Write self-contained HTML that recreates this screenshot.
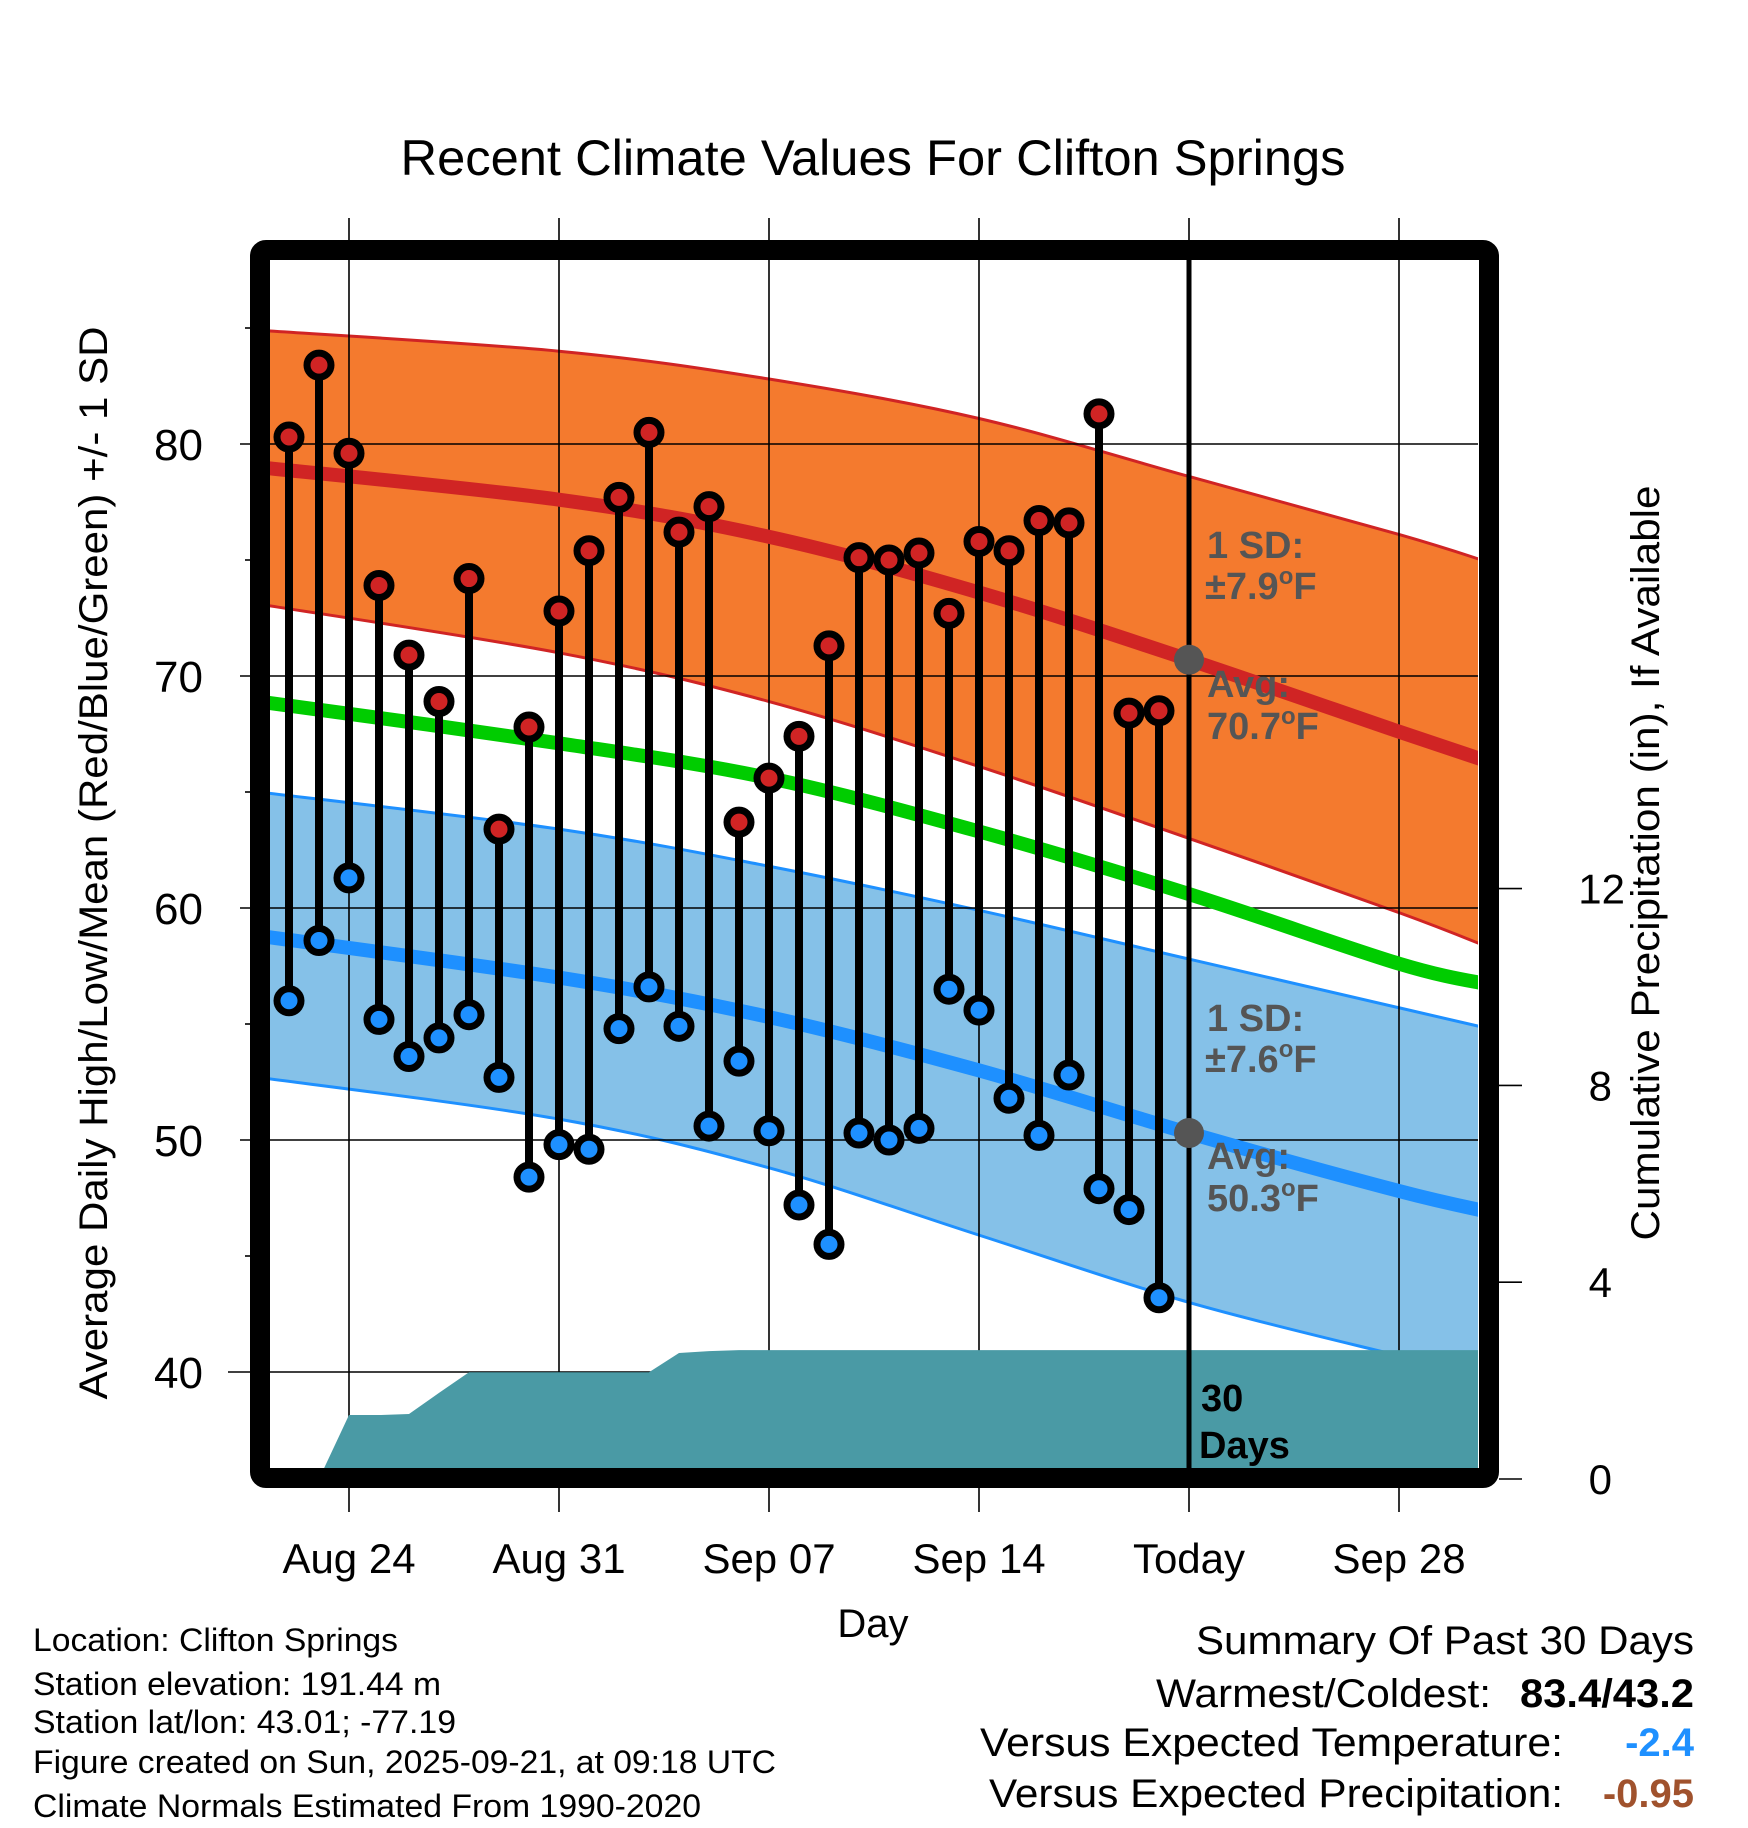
<!DOCTYPE html>
<html><head><meta charset="utf-8"><style>
html,body{margin:0;padding:0;background:#fff;}
svg{display:block;font-family:"Liberation Sans",Arial,sans-serif;}
</style></head><body>
<svg id="chart" width="1748" height="1828" viewBox="0 0 1748 1828" xmlns="http://www.w3.org/2000/svg">
<defs><clipPath id="plotclip"><rect x="270" y="260" width="1208" height="1210"/></clipPath></defs>
<g id="bands" clip-path="url(#plotclip)"></g>
<g id="grid"></g>
<g id="precip" clip-path="url(#plotclip)"></g>
<g id="lines" clip-path="url(#plotclip)"></g>
<g id="obs"></g>
<g id="anno"></g>
<rect x="260" y="250" width="1229" height="1228" rx="6" fill="none" stroke="#000" stroke-width="20"/>
<g id="axes"></g>
<text x="873" y="175" font-size="50" text-anchor="middle" textLength="945" lengthAdjust="spacingAndGlyphs">Recent Climate Values For Clifton Springs</text>
<text x="873" y="1637" font-size="40" text-anchor="middle">Day</text>
<text transform="translate(107,863) rotate(-90)" font-size="40" text-anchor="middle" textLength="1073" lengthAdjust="spacingAndGlyphs">Average Daily High/Low/Mean (Red/Blue/Green) +/- 1 SD</text>
<text transform="translate(1659,863) rotate(-90)" font-size="40" text-anchor="middle" textLength="755" lengthAdjust="spacingAndGlyphs">Cumulative Precipitation (in), If Available</text>
<g font-size="32">
<text x="33" y="1651" textLength="365" lengthAdjust="spacingAndGlyphs">Location: Clifton Springs</text>
<text x="33" y="1695" textLength="408" lengthAdjust="spacingAndGlyphs">Station elevation: 191.44 m</text>
<text x="33" y="1733" textLength="423" lengthAdjust="spacingAndGlyphs">Station lat/lon: 43.01; -77.19</text>
<text x="33" y="1773" textLength="743" lengthAdjust="spacingAndGlyphs">Figure created on Sun, 2025-09-21, at 09:18 UTC</text>
<text x="33" y="1817" textLength="668" lengthAdjust="spacingAndGlyphs">Climate Normals Estimated From 1990-2020</text>
</g>
<g font-size="40">
<text x="1694" y="1654" text-anchor="end" textLength="498" lengthAdjust="spacingAndGlyphs">Summary Of Past 30 Days</text>
<text x="1491" y="1707" text-anchor="end" textLength="335" lengthAdjust="spacingAndGlyphs">Warmest/Coldest:</text>
<text x="1694" y="1707" text-anchor="end" font-weight="bold" textLength="174" lengthAdjust="spacingAndGlyphs">83.4/43.2</text>
<text x="1563" y="1756" text-anchor="end" textLength="583" lengthAdjust="spacingAndGlyphs">Versus Expected Temperature:</text>
<text x="1694" y="1756" text-anchor="end" font-weight="bold" fill="#1e90ff">-2.4</text>
<text x="1563" y="1807" text-anchor="end" textLength="574" lengthAdjust="spacingAndGlyphs">Versus Expected Precipitation:</text>
<text x="1694" y="1807" text-anchor="end" font-weight="bold" fill="#a0522d">-0.95</text>
</g>
</svg>
<script>
// day offsets relative to Aug 24
const obsDays = [-2,-1,0,1,2,3,4,5,6,7,8,9,10,11,12,13,14,15,16,17,18,19,20,21,22,23,24,25,26,27];
const highs = [80.3,83.4,79.6,73.9,70.9,68.9,74.2,63.4,67.8,72.8,75.4,77.7,80.5,76.2,77.3,63.7,65.6,67.4,71.3,75.1,75.0,75.3,72.7,75.8,75.4,76.7,76.6,81.3,68.4,68.5];
const lows = [56.0,58.6,61.3,55.2,53.6,54.4,55.4,52.7,48.4,49.8,49.6,54.8,56.6,54.9,50.6,53.4,50.4,47.2,45.5,50.3,50.0,50.5,56.5,55.6,51.8,50.2,52.8,47.9,47.0,43.2];
const precip = [0,0,1.3,1.3,1.32,1.75,2.17,2.17,2.17,2.17,2.17,2.17,2.17,2.56,2.6,2.62,2.62,2.62,2.62,2.62,2.62,2.62,2.62,2.62,2.62,2.62,2.62,2.62,2.62,2.62];
const normDays = [-3,7,14,21,28,35,38];
const highUpper = [84.9,84.0,82.8,81.1,78.6,76.1,74.9];
const highAvg = [79.0,77.6,76.0,73.6,70.7,67.6,66.3];
const highLower = [73.1,71.0,68.9,66.1,63.0,59.8,58.3];
const meanAvg = [68.9,67.1,65.6,63.3,60.6,57.6,56.7];
const lowUpper = [65.0,63.4,61.8,59.9,57.8,55.7,54.8];
const lowAvg = [58.8,57.0,55.3,53.0,50.3,47.8,46.9];
const lowLower = [52.7,50.9,48.8,45.9,43.0,40.7,39.8];
const xTickDays = [0,7,14,21,28,35];
const xTickLabels = ["Aug 24","Aug 31","Sep 07","Sep 14","Today","Sep 28"];
const yTicks = [40,50,60,70,80];
const yMinor = [45,55,65,75,85];
const pTicks = [0,4,8,12];
const todayDay = 28;
const todayHigh = 70.7, todayLow = 50.3;

const X = d => 349 + 30*d;
const Y = t => 444 + (80 - t)*23.2;
const P = p => 1479 - p*49.2;
const NS = "http://www.w3.org/2000/svg";
function mk(tag, parent, attrs){const e=document.createElementNS(NS,tag);for(const k in attrs)e.setAttribute(k,attrs[k]);parent.appendChild(e);return e;}
const g = id => document.getElementById(id);
function curve(p, start){
  let s = start+p[0][0]+","+p[0][1];
  for(let i=0;i<p.length-1;i++){
    const p0=p[Math.max(0,i-1)], p1=p[i], p2=p[i+1], p3=p[Math.min(p.length-1,i+2)];
    const c1=[p1[0]+(p2[0]-p0[0])/6, p1[1]+(p2[1]-p0[1])/6];
    const c2=[p2[0]-(p3[0]-p1[0])/6, p2[1]-(p3[1]-p1[1])/6];
    s += " C"+c1[0]+","+c1[1]+" "+c2[0]+","+c2[1]+" "+p2[0]+","+p2[1];
  }
  return s;
}
const smooth = (days, vals) => curve(days.map((d,i)=>[X(d),Y(vals[i])]), "M");
const smoothRev = (days, vals) => curve(days.map((d,i)=>[X(d),Y(vals[i])]).reverse(), "L");
function band(up, lo, fill, stroke, name){
  const d = smooth(normDays,up)+" "+smoothRev(normDays,lo)+"Z";
  const p = mk("path", g("bands"), {d:d, fill:fill});
  
  
  const a = mk("path", g("bands"), {d:smooth(normDays,up), fill:"none", stroke:stroke, "stroke-width":3});
  
  
  const b = mk("path", g("bands"), {d:smooth(normDays,lo), fill:"none", stroke:stroke, "stroke-width":3});
  
  
}
band(highUpper, highLower, "#f47a2e", "#d02424", "high-sd-band");
band(lowUpper, lowLower, "#85c1e8", "#1e90ff", "low-sd-band");

yTicks.forEach(t=>{
  const l = mk("line", g("grid"), {x1:t===40?228:240, x2:1478, y1:Y(t), y2:Y(t), stroke:"#000", "stroke-width":1.6});
  
  
  const tx = mk("text", g("axes"), {x:203, y:Y(t)+16, "font-size":44, "text-anchor":"end"});
  tx.textContent = t;
  
  
});
yMinor.forEach(t=>{
  const l = mk("line", g("grid"), {x1:245, x2:252, y1:Y(t), y2:Y(t), stroke:"#000", "stroke-width":1.6});
  
  
});
xTickDays.forEach((d,i)=>{
  const l = mk("line", g("grid"), {x1:X(d), x2:X(d), y1:218, y2:1512, stroke:"#000", "stroke-width":1.6});
  
  
  const tx = mk("text", g("axes"), {x:X(d), y:1573, "font-size":42, "text-anchor":"middle"});
  tx.textContent = xTickLabels[i];
  
  
});
pTicks.forEach(p=>{
  const l = mk("line", g("axes"), {x1:1499, x2:1522, y1:P(p), y2:P(p), stroke:"#000", "stroke-width":1.6});
  
  
  const tx = mk("text", g("axes"), {x:p>=10?1625:1612, y:P(p)+15, "font-size":42, "text-anchor":"end"});
  tx.textContent = p;
  
  
});

(function(){
  let d = "M270,"+P(0)+" L"+X(obsDays[0])+","+P(precip[0]);
  obsDays.forEach((day,i)=>{ d += " L"+X(day)+","+P(precip[i]); });
  d += " L1480,"+P(precip[precip.length-1])+" L1480,"+P(0)+"Z";
  const p = mk("path", g("precip"), {d:d, fill:"#4a9aa5"});
  
  
})();

function nline(vals, color, name){
  const l = mk("path", g("lines"), {d:smooth(normDays,vals), fill:"none", stroke:color, "stroke-width":14});
  
  
}
nline(highAvg, "#d02424", "normal-high-line");
nline(meanAvg, "#00cc00", "normal-mean-line");
nline(lowAvg, "#1e90ff", "normal-low-line");

(function(){
  const l = mk("line", g("obs"), {x1:X(todayDay), x2:X(todayDay), y1:255, y2:1475, stroke:"#000", "stroke-width":5});
  
  
})();

obsDays.forEach((d,i)=>{
  const s = mk("line", g("obs"), {x1:X(d), x2:X(d), y1:Y(highs[i]), y2:Y(lows[i]), stroke:"#000", "stroke-width":8});
  
  
  const h = mk("circle", g("obs"), {cx:X(d), cy:Y(highs[i]), r:12, fill:"#d02424", stroke:"#000", "stroke-width":7});
  
  
  const lo = mk("circle", g("obs"), {cx:X(d), cy:Y(lows[i]), r:12, fill:"#1e90ff", stroke:"#000", "stroke-width":7});
  
  
});

(function(){
  const a = g("anno");
  const d1 = mk("circle", a, {cx:X(todayDay), cy:Y(todayHigh), r:15, fill:"#555"});
  
  
  const d2 = mk("circle", a, {cx:X(todayDay), cy:Y(todayLow), r:15, fill:"#555"});
  
  
  const items = [
    ["1 SD:","",1207,558,"#555","high-sd-label"],["±7.9","F",1205,599,"#555","high-sd-value"],
    ["Avg:","",1207,697,"#555","high-avg-label"],["70.7","F",1207,739,"#555","high-avg-value"],
    ["1 SD:","",1207,1031,"#555","low-sd-label"],["±7.6","F",1205,1072,"#555","low-sd-value"],
    ["Avg:","",1207,1169,"#555","low-avg-label"],["50.3","F",1207,1211,"#555","low-avg-value"],
    ["30","",1201,1411,"#000","days-count"],["Days","",1199,1458,"#000","days-label"]
  ];
  items.forEach(it=>{
    const t = mk("text", a, {x:it[2], y:it[3], "font-size":38, "font-weight":"bold", fill:it[4]});
    t.textContent = it[0];
    if(it[1]){
      const o = mk("tspan", t, {"font-size":24, dy:-15});
      o.textContent = "o";
      const f = mk("tspan", t, {dy:15});
      f.textContent = it[1];
    }
    
    
  });
})();
</script>
</body></html>
